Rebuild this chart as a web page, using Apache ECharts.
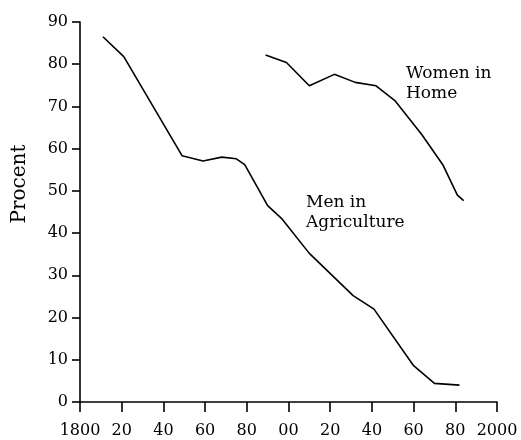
<!DOCTYPE html>
<html>
<head>
<meta charset="utf-8">
<script src="https://cdn.jsdelivr.net/npm/echarts@6/dist/echarts.min.js"></script>
<style>html,body{margin:0;padding:0;background:#fff}#c{width:521px;height:440px}</style>
</head>
<body>
<div id="c"></div>
<script>
const menYears = [1811, 1821, 1849, 1859, 1868, 1875, 1879, 1890, 1897, 1910, 1931, 1941, 1960, 1970, 1982];
const menValues = [86.5, 81.8, 58.3, 57.1, 58.0, 57.6, 56.2, 46.5, 43.3, 35.2, 25.2, 22.0, 8.6, 4.4, 4.0];
const womenYears = [1889, 1899, 1910, 1922, 1932, 1942, 1951, 1964, 1974, 1981, 1984];
const womenValues = [82.2, 80.4, 74.9, 77.6, 75.7, 74.9, 71.4, 63.3, 56.2, 49.0, 47.7];
const yTicks = [0, 10, 20, 30, 40, 50, 60, 70, 80, 90];
const xTicks = [1800, 1820, 1840, 1860, 1880, 1900, 1920, 1940, 1960, 1980, 2000];

const font = 'DejaVu Serif';
const chart = echarts.init(document.getElementById('c'), null, {renderer: 'canvas'});
const zip = (xs, ys) => xs.map((x, i) => [x, ys[i]]);
chart.setOption({
  animation: false,
  backgroundColor: '#fff',
  grid: {left: 80, right: 24, top: 22, bottom: 38, containLabel: false},
  xAxis: {
    type: 'value', min: xTicks[0], max: xTicks[xTicks.length - 1], interval: 20,
    axisLine: {show: true, onZero: false, lineStyle: {color: '#000', width: 1.6}},
    axisTick: {show: true, length: 10, inside: false, lineStyle: {color: '#000', width: 1.6}},
    splitLine: {show: false},
    axisLabel: {
      color: '#000', fontFamily: font, fontSize: 16, margin: 21,
      formatter: v => (v === 1800 || v === 2000) ? String(v) : String(v % 100).padStart(2, '0')
    }
  },
  yAxis: {
    type: 'value', min: yTicks[0], max: yTicks[yTicks.length - 1], interval: 10,
    axisLine: {show: true, lineStyle: {color: '#000', width: 1.6}},
    axisTick: {show: true, length: 8, lineStyle: {color: '#000', width: 1.6}},
    splitLine: {show: false},
    axisLabel: {color: '#000', fontFamily: font, fontSize: 16, margin: 12}
  },
  series: [
    {type: 'line', name: 'Men in Agriculture', data: zip(menYears, menValues), showSymbol: false, symbol: 'none',
     lineStyle: {color: '#000', width: 1.6}},
    {type: 'line', name: 'Women in Home', data: zip(womenYears, womenValues), showSymbol: false, symbol: 'none',
     lineStyle: {color: '#000', width: 1.6}}
  ],
  graphic: [
    {type: 'text', x: 20, y: 184, rotation: Math.PI / 2,
     style: {text: 'Procent', fill: '#000', font: '20px "DejaVu Serif"', align: 'center', verticalAlign: 'middle'}},
    {type: 'text', left: 406, top: 64, style: {text: 'Women in\nHome', fill: '#000', font: '17px "DejaVu Serif"', lineHeight: 20}},
    {type: 'text', left: 306, top: 193, style: {text: 'Men in\nAgriculture', fill: '#000', font: '17px "DejaVu Serif"', lineHeight: 20}}
  ]
});
</script>
</body>
</html>
